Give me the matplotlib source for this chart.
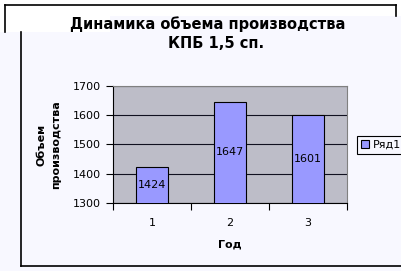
import matplotlib.pyplot as plt
from matplotlib.patches import Rectangle
from matplotlib.lines import Line2D

# данные
years = ['1', '2', '3']
volume = [1424, 1647, 1601]
series_name = 'Ряд1'

plt.rcParams['font.family'] = ['DejaVu Sans']

W, H = 402, 271
bg = '#f8f8ff'
fig = plt.figure(figsize=(W / 100, H / 100), dpi=100, facecolor=bg)


def fx(x):
    return x / W


def fy(y):
    return 1 - y / H


# белая область сверху и рамки (как на исходной картинке)
fig.add_artist(Rectangle((0, fy(16)), 1, 16 / H, transform=fig.transFigure,
                         facecolor='white', edgecolor='none', zorder=0))
fig.add_artist(Rectangle((0, fy(32)), fx(110), 16 / H, transform=fig.transFigure,
                         facecolor='white', edgecolor='none', zorder=0))
for xs, ys in [((5, 396), (5, 5)), ((5, 5), (5, 32)), ((396, 396), (5, 16)),
               ((21, 21), (32, 266)), ((21, 402), (266, 266))]:
    fig.add_artist(Line2D([fx(v) for v in xs], [fy(v) for v in ys],
                          transform=fig.transFigure, color='black', lw=1.2))

# заголовок
fig.text(fx(208), fy(24), 'Динамика объема производства', ha='center', va='center',
         fontsize=10.5, fontweight='bold')
fig.text(fx(216), fy(44), 'КПБ 1,5 сп.', ha='center', va='center',
         fontsize=10.5, fontweight='bold')

ax = fig.add_axes([fx(113), fy(203), 234 / W, 117 / H])
ax.set_facecolor('#bdbdc8')

x = range(len(years))
bars = ax.bar(x, volume, width=0.42, bottom=0, color='#9999ff',
              edgecolor='black', linewidth=0.8, label=series_name, zorder=3)
for i, v in enumerate(volume):
    ax.text(i, (1300 + v) / 2, str(v), ha='center', va='center', fontsize=8, zorder=4)

ax.set_xlim(-0.5, 2.5)
ax.set_ylim(1300, 1700)
ax.set_yticks(range(1300, 1701, 100))
ax.yaxis.grid(True, color='#101020', lw=0.8)
ax.set_axisbelow(True)

ax.set_xticks([-0.5, 0.5, 1.5, 2.5])
ax.set_xticklabels([])
ax.set_xticks(list(x), minor=True)
ax.set_xticklabels(years, minor=True)
ax.tick_params(axis='x', which='major', direction='out', length=5, color='black')
ax.tick_params(axis='x', which='minor', length=0, pad=11, labelsize=8)
ax.tick_params(axis='y', direction='out', length=5, pad=4, labelsize=8)

for s in ['top', 'right']:
    ax.spines[s].set_color('#808080')
for s in ['left', 'bottom']:
    ax.spines[s].set_color('black')

ax.set_xlabel('Год', fontsize=8, fontweight='bold', labelpad=8)
fig.text(fx(49), fy(145), 'Объем\nпроизводства', rotation=90, ha='center', va='center',
         multialignment='center', fontsize=8, fontweight='bold', linespacing=1.55)

leg = ax.legend(loc='center left', bbox_to_anchor=(fx(357), fy(145)),
                bbox_transform=fig.transFigure, fontsize=8, frameon=True,
                fancybox=False, edgecolor='black', facecolor=bg, framealpha=1,
                handlelength=0.7, handleheight=0.7, handletextpad=0.3,
                borderpad=0.4, borderaxespad=0)
leg.get_frame().set_linewidth(0.8)

fig.savefig('out.png', dpi=100, facecolor=bg)
